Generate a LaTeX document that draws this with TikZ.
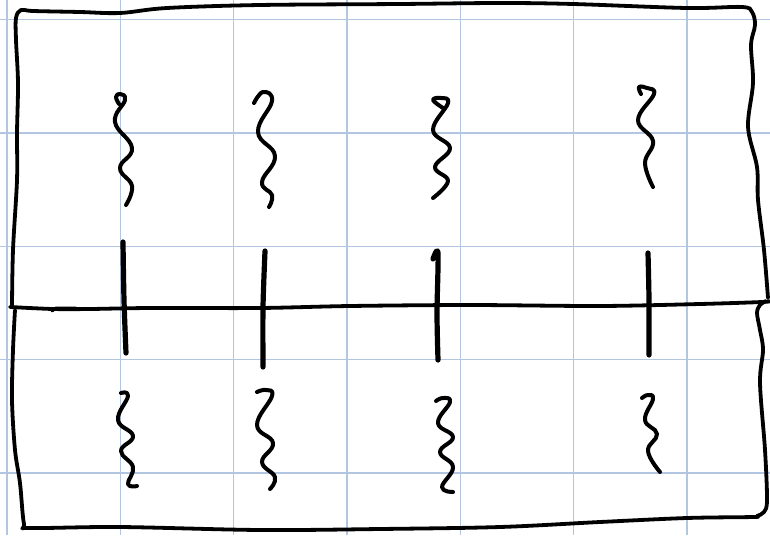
\documentclass[tikz,border=0pt]{standalone}
\begin{document}
\begin{tikzpicture}[x=1pt,y=-1pt,
  gridline/.style={draw={rgb,255:red,178;green,198;blue,226},line width=1.3pt},
  ink/.style={draw=black,line width=3.8pt,line cap=round,line join=round},
  bar/.style={draw=black,line width=5.2pt,line cap=round,line join=round},
  wig/.style={draw=black,line width=4pt,line cap=round,line join=round}]
\useasboundingbox (0,0) rectangle (770,535);
\fill[white] (0,0) rectangle (770,535);
% grid paper
\foreach \gx in {7,120.3,233.6,347,460.3,573.6,687}
  \draw[gridline] (\gx,0) -- (\gx,535);
\foreach \gy in {19.5,133,246.3,359.5,473}
  \draw[gridline] (0,\gy) -- (770,\gy);
% top box outline
\draw[ink] plot[smooth,tension=0.55] coordinates {(12,307) (13,250) (17,180) (17,133) (18,83) (16,40) (16,18) (21,10) (33,11) (80,12) (120,13) (167,8) (260,5) (400,4) (500,3) (573,4) (687,8) (742,7) (752,12) (755,25) (751,45) (753,83) (748,127) (757,167) (758,200) (764,250) (768,298)};
% middle horizontal line
\draw[ink] plot[smooth,tension=0.5] coordinates {(10,307) (53,309) (90,309) (150,308) (260,308) (350,306) (470,305) (600,306) (700,304) (762,302) (770,301)};
\draw[ink,line width=3pt] (52,311) -- (56,308) -- (76,308);
% lower box outline
\draw[ink] plot[smooth,tension=0.55] coordinates {(766,301) (760,305) (757,313) (760,330) (763,350) (760,383) (765,450) (767,500) (764,512) (757,516) (753,517) (687,518) (600,522) (500,527) (380,529) (260,530) (120,527) (30,528) (24,524) (20,483) (15,450) (12,400) (13,350) (15,310)};
% vertical bars
\draw[bar] plot[smooth] coordinates {(123,242) (124,300) (126,353)};
\draw[bar] plot[smooth] coordinates {(265,251) (263,307) (263,367)};
\draw[bar] plot[smooth] coordinates {(433,259) (438,253) (437,313) (438,360)};
\draw[bar] plot[smooth] coordinates {(648,253) (649,300) (649,355)};
% top squiggles
\draw[wig] plot[smooth,tension=0.75] coordinates {(119,104) (116,97) (120,94) (125,100) (115,122) (132,148) (120,168) (132,186) (126,205)};
\draw[wig] plot[smooth,tension=0.75] coordinates {(254,103) (263,92) (272,101) (258,132) (275,156) (262,182) (272,195) (269,207)};
\draw[wig] plot[smooth,tension=0.7] coordinates {(443,108) (433,100) (441,98) (448,103) (433,130) (450,148) (435,167) (448,181) (433,198)};
\draw[wig] plot[smooth,tension=0.7] coordinates {(641,94) (639,87) (647,88) (654,94) (638,120) (653,141) (645,163) (653,187)};
% bottom squiggles
\draw[wig] plot[smooth,tension=0.75] coordinates {(121,393) (128,396) (118,420) (133,436) (121,451) (133,467) (128,484) (137,486)};
\draw[wig] plot[smooth,tension=0.75] coordinates {(257,392) (266,390) (272,396) (257,425) (273,443) (262,462) (275,477) (270,489)};
\draw[wig] plot[smooth,tension=0.75] coordinates {(436,401) (443,398) (450,402) (438,423) (453,437) (440,452) (453,467) (442,487) (453,492)};
\draw[wig] plot[smooth,tension=0.75] coordinates {(642,398) (648,395) (653,399) (645,420) (657,434) (648,451) (660,472)};
\end{tikzpicture}
\end{document}
